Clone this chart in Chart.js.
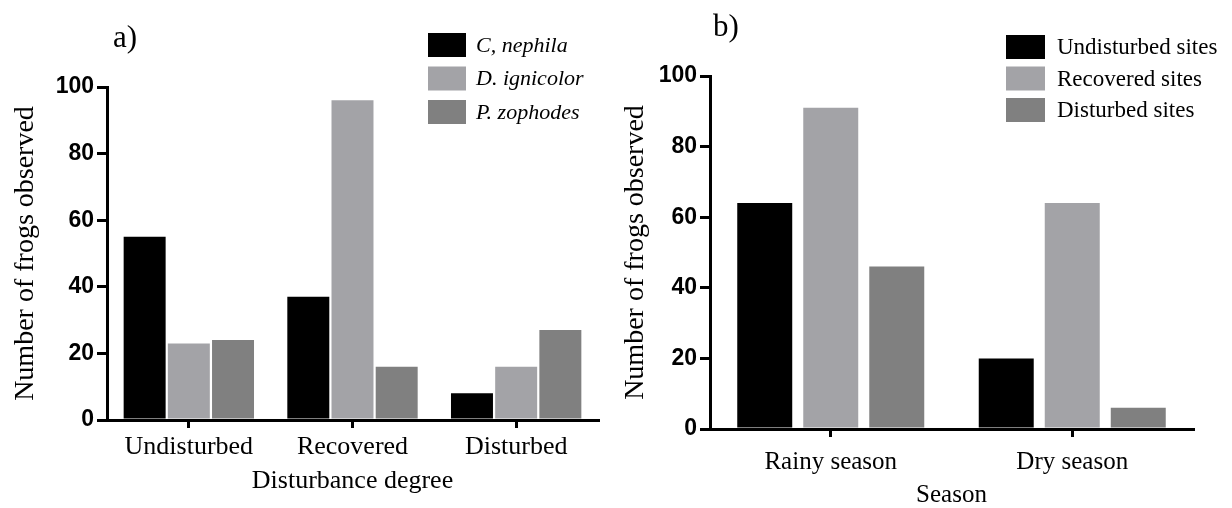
<!DOCTYPE html>
<html>
<head>
<meta charset="utf-8">
<script src="https://cdn.jsdelivr.net/npm/chart.js@4.4.1/dist/chart.umd.min.js"></script>
<style>
  html, body { margin: 0; padding: 0; background: #fff; }
  .panel { position: absolute; top: 0; width: 616px; height: 508px; }
</style>
</head>
<body>
<div class="panel" style="left:0"><canvas id="chartA"></canvas></div>
<div class="panel" style="left:616px"><canvas id="chartB"></canvas></div>
<script>
// panel a) - by disturbance degree
const disturbanceLabels = ["Undisturbed", "Recovered", "Disturbed"];
const cNephila = [55, 37, 8];
const dIgnicolor = [23, 96, 16];
const pZophodes = [24, 16, 27];

// panel b) - by season
const seasonLabels = ["Rainy season", "Dry season"];
const undisturbedSites = [64, 20];
const recoveredSites = [91, 64];
const disturbedSites = [46, 6];

const yMax = 100;
const yStep = 20;

const BLACK = "#000000";
const LIGHT = "#a3a3a7";
const DARK = "#808080";

// legend + panel letter drawn by hand so they can sit above the plot
function sideLegend(opts) {
  return {
    id: "sideLegend",
    afterDraw(chart) {
      const ctx = chart.ctx;
      ctx.save();
      chart.data.datasets.forEach((ds, i) => {
        const y = opts.y + i * opts.pitch;
        ctx.fillStyle = ds.backgroundColor;
        ctx.fillRect(opts.x, y, opts.boxW, opts.boxH);
        ctx.fillStyle = "#000";
        ctx.font = opts.font;
        ctx.textBaseline = "middle";
        ctx.fillText(ds.label, opts.x + opts.boxW + opts.gap, y + opts.boxH / 2 + 1);
      });
      ctx.font = "31px 'Liberation Serif'";
      ctx.textBaseline = "alphabetic";
      ctx.fillText(opts.letter, opts.letterX, opts.letterY);
      ctx.restore();
    }
  };
}

function makeOptions(cfg) {
  return {
    responsive: true,
    maintainAspectRatio: false,
    animation: false,
    layout: { padding: { left: 0, top: cfg.top, right: cfg.right, bottom: 0 } },
    plugins: { legend: { display: false }, tooltip: { enabled: false } },
    datasets: {
      bar: { barPercentage: cfg.barPct, categoryPercentage: cfg.catPct }
    },
    scales: {
      x: {
        grid: { offset: false, drawOnChartArea: false, color: "#000", lineWidth: 3, tickLength: 8 },
        border: { color: "#000", width: 3 },
        ticks: { color: "#000", font: { family: "Liberation Serif", size: cfg.xFont }, padding: cfg.xTickPad, maxRotation: 0 },
        title: {
          display: true, text: cfg.xTitle, color: "#000",
          font: { family: "Liberation Serif", size: cfg.xFont, lineHeight: cfg.xTitleLH },
          padding: { top: 0, bottom: cfg.xTitlePad }
        },
        afterFit(scale) { scale.height = 508 - cfg.bottom; }
      },
      y: {
        min: 0, max: yMax,
        grid: { drawOnChartArea: false, color: "#000", lineWidth: 3, tickLength: 10 },
        border: { color: "#000", width: 3 },
        ticks: {
          stepSize: yStep, color: "#000", padding: 3,
          font: { family: "Liberation Sans", weight: "bold", size: 23 }
        },
        title: {
          display: true, text: "Number of frogs observed", color: "#000",
          font: { family: "Liberation Serif", size: 28 },
          padding: { top: cfg.yTitlePad, bottom: 0 }
        },
        afterFit(scale) { scale.width = cfg.left; }
      }
    }
  };
}

new Chart(document.getElementById("chartA"), {
  type: "bar",
  data: {
    labels: disturbanceLabels,
    datasets: [
      { label: "C, nephila", data: cNephila, backgroundColor: BLACK },
      { label: "D. ignicolor", data: dIgnicolor, backgroundColor: LIGHT },
      { label: "P. zophodes", data: pZophodes, backgroundColor: DARK }
    ]
  },
  options: makeOptions({
    top: 87, bottom: 420, left: 107, right: 18,
    barPct: 0.95, catPct: 0.81, xFont: 26, xTickPad: 4,
    xTitle: "Disturbance degree", xTitlePad: 11, xTitleLH: 1.2, yTitlePad: 9
  }),
  plugins: [sideLegend({
    x: 428, y: 33, pitch: 33.5, boxW: 38, boxH: 24, gap: 10,
    font: "italic 22px 'Liberation Serif'", letter: "a)", letterX: 113, letterY: 47
  })]
});

new Chart(document.getElementById("chartB"), {
  type: "bar",
  data: {
    labels: seasonLabels,
    datasets: [
      { label: "Undisturbed sites", data: undisturbedSites, backgroundColor: BLACK },
      { label: "Recovered sites", data: recoveredSites, backgroundColor: LIGHT },
      { label: "Disturbed sites", data: disturbedSites, backgroundColor: DARK }
    ]
  },
  options: makeOptions({
    top: 76, bottom: 429, left: 94, right: 39,
    barPct: 0.833, catPct: 0.82, xFont: 25, xTickPad: 10,
    xTitle: "Season", xTitlePad: 0, xTitleLH: 1.0, yTitlePad: 3
  }),
  plugins: [sideLegend({
    x: 390, y: 35, pitch: 31.5, boxW: 39, boxH: 24, gap: 12,
    font: "23px 'Liberation Serif'", letter: "b)", letterX: 97, letterY: 36
  })]
});
</script>
</body>
</html>
